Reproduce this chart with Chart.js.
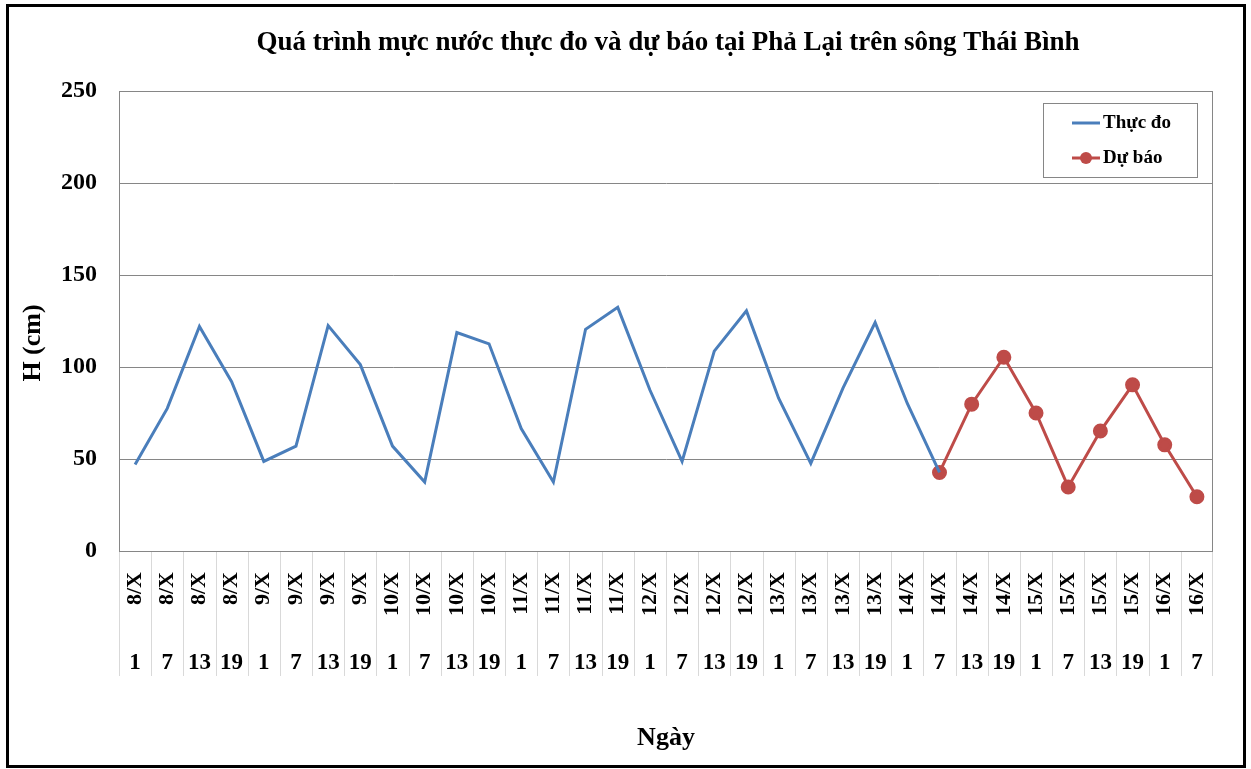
<!DOCTYPE html>
<html>
<head>
<meta charset="utf-8">
<script src="https://cdn.jsdelivr.net/npm/chart.js@4.4.1/dist/chart.umd.min.js"></script>
<style>
  html,body{margin:0;padding:0;background:#fff;overflow:hidden}
  canvas{display:block}
</style>
</head>
<body>
<canvas id="c" width="1251" height="769"></canvas>
<script>
// ---- data ----
const dayLabels = ['8/X','8/X','8/X','8/X','9/X','9/X','9/X','9/X','10/X','10/X','10/X','10/X',
  '11/X','11/X','11/X','11/X','12/X','12/X','12/X','12/X','13/X','13/X','13/X','13/X',
  '14/X','14/X','14/X','14/X','15/X','15/X','15/X','15/X','16/X','16/X'];
const hourLabels = ['1','7','13','19','1','7','13','19','1','7','13','19',
  '1','7','13','19','1','7','13','19','1','7','13','19',
  '1','7','13','19','1','7','13','19','1','7'];
const thucDo = [47, 77.5, 122, 92, 48.7, 57, 122.5, 101.3, 57, 37.5, 118.7, 112.6,
  66.5, 37.5, 120.5, 132.4, 87.5, 48.7, 108.6, 130.5, 83, 47.6, 88.5, 124.2,
  80.2, 42.7, null, null, null, null, null, null, null, null];
const duBao = [null, null, null, null, null, null, null, null, null, null, null, null,
  null, null, null, null, null, null, null, null, null, null, null, null,
  null, 42.7, 79.8, 105.3, 75, 34.8, 65.2, 90.3, 57.7, 29.5];
const yTicks = [0, 50, 100, 150, 200, 250];

const FONT = "'Liberation Serif','Times New Roman',serif";
const BLUE = '#4a7ebb';
const RED  = '#be4b48';

/* background, frame, separators, titles, legend */
const deco = {
  id:'deco',
  beforeDraw(chart){
    const ctx = chart.ctx;
    ctx.save();
    ctx.fillStyle = '#fff';
    ctx.fillRect(0,0,chart.width,chart.height);
    ctx.restore();
  },
  beforeDatasetsDraw(chart){
    const {ctx, chartArea:a, scales:{x}} = chart;
    ctx.save();
    // plot frame
    ctx.strokeStyle = '#868686'; ctx.lineWidth = 1;
    ctx.strokeRect(Math.round(a.left)+0.5, Math.round(a.top)+0.5,
                   Math.round(a.right-a.left)-1, Math.round(a.bottom-a.top));
    // category separators under the axis
    ctx.strokeStyle = '#d9d9d9';
    const n = dayLabels.length;
    const xs = [a.left];
    for(let i=1;i<n;i++) xs.push((x.getPixelForValue(i-1)+x.getPixelForValue(i))/2);
    xs.push(a.right-1);
    ctx.beginPath();
    xs.forEach(px=>{
      const xx = Math.round(px)+0.5;
      ctx.moveTo(xx, a.bottom+1); ctx.lineTo(xx, 676);
    });
    ctx.stroke();
    ctx.restore();
  },
  afterDraw(chart){
    const {ctx, chartArea:a} = chart;
    ctx.save();
    // outer black border
    ctx.strokeStyle = '#000'; ctx.lineWidth = 3;
    ctx.strokeRect(7.5, 5.5, 1237, 761);

    ctx.fillStyle = '#000';
    ctx.textAlign = 'center'; ctx.textBaseline = 'middle';
    ctx.font = `bold 27px ${FONT}`;
    ctx.fillText('Quá trình mực nước thực đo và dự báo tại Phả Lại trên sông Thái Bình', 668, 43);
    ctx.font = `bold 26px ${FONT}`;
    ctx.fillText('Ngày', (a.left+a.right)/2, 738);
    ctx.save();
    ctx.translate(33, 343); ctx.rotate(-Math.PI/2);
    ctx.fillText('H (cm)', 0, 0);
    ctx.restore();

    // legend
    ctx.strokeStyle = '#868686'; ctx.lineWidth = 1;
    ctx.strokeRect(1043.5, 103.5, 154, 74);
    const ds = chart.data.datasets;
    const rows = [123, 158];
    ds.forEach((d,i)=>{
      const y = rows[i];
      ctx.strokeStyle = d.borderColor; ctx.lineWidth = 3;
      ctx.beginPath(); ctx.moveTo(1072, y); ctx.lineTo(1100, y); ctx.stroke();
      if(d.pointRadius > 0){
        ctx.fillStyle = d.pointBackgroundColor;
        ctx.beginPath(); ctx.arc(1086, y, d.pointRadius, 0, Math.PI*2); ctx.fill();
      }
      ctx.fillStyle = '#000';
      ctx.textAlign = 'left';
      ctx.font = `bold 19px ${FONT}`;
      ctx.fillText(d.label, 1103, y);
    });
    ctx.restore();
  }
};

new Chart(document.getElementById('c'), {
  type:'line',
  data:{
    labels: dayLabels,
    datasets:[
      { label:'Thực đo', data:thucDo, borderColor:BLUE, backgroundColor:BLUE,
        borderWidth:3, pointRadius:0, pointHoverRadius:0, tension:0, spanGaps:false },
      { label:'Dự báo', data:duBao, borderColor:RED, backgroundColor:RED,
        pointBackgroundColor:RED, pointBorderColor:RED,
        borderWidth:3, pointRadius:6, pointHoverRadius:6, tension:0 }
    ]
  },
  options:{
    responsive:false,
    animation:false,
    devicePixelRatio:1,
    layout:{ padding:{ left:10, right:38, top:91, bottom:60 } },
    plugins:{ legend:{display:false}, title:{display:false}, tooltip:{enabled:false} },
    scales:{
      x:{
        type:'category', offset:true, position:'bottom',
        grid:{ display:false, drawTicks:false },
        border:{ display:false },
        ticks:{ autoSkip:false, minRotation:90, maxRotation:90, padding:21,
                color:'#000', font:{ family:FONT, size:22, weight:'bold' } },
        afterFit(s){ s.height = 75; }
      },
      x2:{
        type:'category', labels: hourLabels, offset:true, position:'bottom',
        grid:{ display:false, drawTicks:false },
        border:{ display:false },
        ticks:{ autoSkip:false, maxRotation:0, padding:23,
                color:'#000', font:{ family:FONT, size:23, weight:'bold' } },
        afterFit(s){ s.height = 83; }
      },
      y:{
        min:0, max:250,
        afterBuildTicks(s){ s.ticks = yTicks.map(v=>({value:v})); },
        grid:{ color:'#868686', lineWidth:1, drawTicks:false },
        border:{ display:true, color:'#868686' },
        ticks:{ padding:22, color:'#000', font:{ family:FONT, size:24, weight:'bold' } },
        afterFit(s){ s.width = 109; }
      }
    }
  },
  plugins:[deco]
});
</script>
</body>
</html>
